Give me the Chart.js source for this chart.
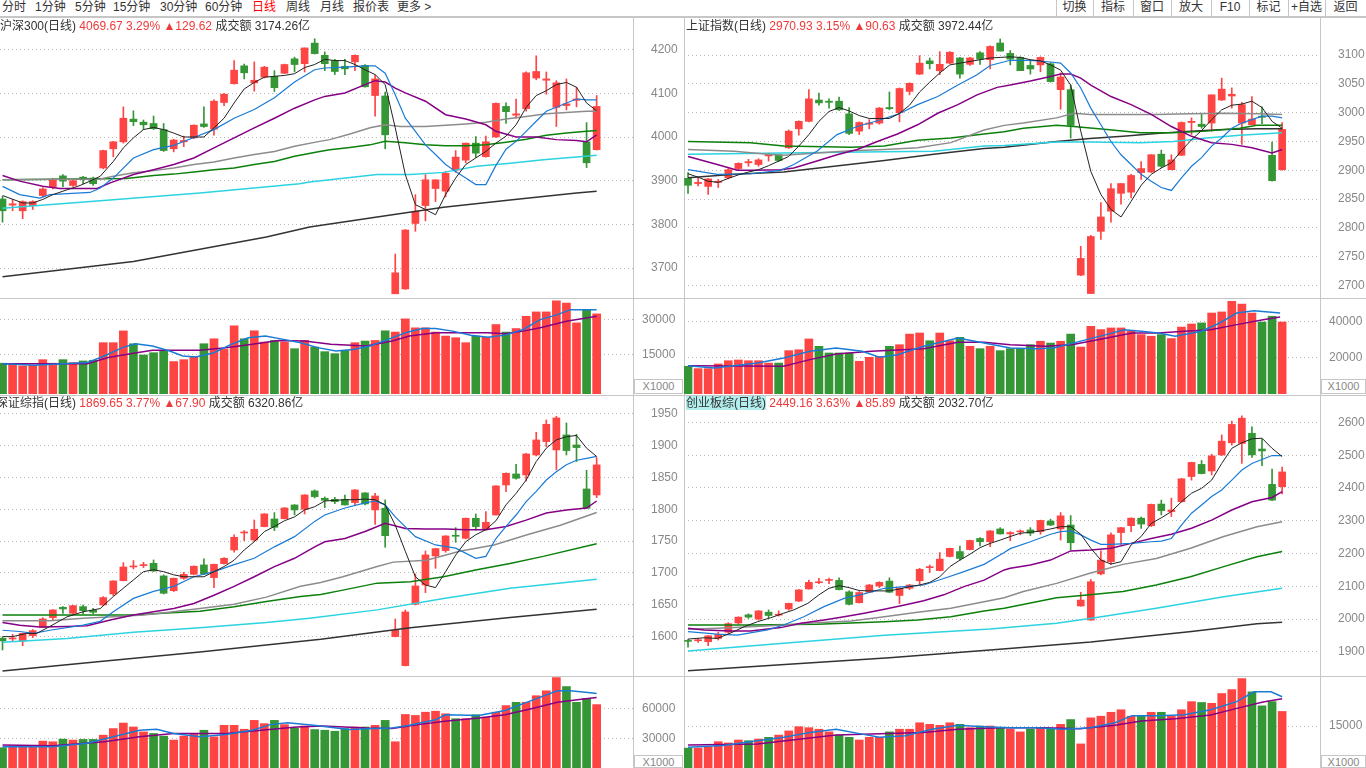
<!DOCTYPE html>
<html>
<head>
<meta charset="utf-8">
<script src="https://cdn.jsdelivr.net/npm/chart.js@4.4.1/dist/chart.umd.min.js"></script>
<style>
body{margin:0;width:1366px;height:768px;overflow:hidden;background:#fff;position:relative;
  font-family:"Liberation Sans","Noto Sans CJK SC",sans-serif;font-size:12px;color:#333}
canvas{position:absolute}
.ln{position:absolute;background:#c6c6c6}
.tb{position:absolute;top:0;line-height:15px;white-space:nowrap}
.btn{position:absolute;top:0;line-height:15px;text-align:center}
.title{position:absolute;line-height:15px;white-space:nowrap;z-index:5}
.rd{color:#ee3a3a}
.unit{position:absolute;border:1px solid #c6c6c6;color:#888;font-size:11px;line-height:12px;text-align:center;box-sizing:border-box;background:#fff}
</style>
</head>
<body>
<!-- toolbar -->
<div class="tb" style="left:2px">分时</div>
<div class="tb" style="left:35px">1分钟</div>
<div class="tb" style="left:75px">5分钟</div>
<div class="tb" style="left:113px">15分钟</div>
<div class="tb" style="left:160px">30分钟</div>
<div class="tb" style="left:205px">60分钟</div>
<div class="tb" style="left:252px;color:#f00">日线</div>
<div class="tb" style="left:286px">周线</div>
<div class="tb" style="left:320px">月线</div>
<div class="tb" style="left:353px">报价表</div>
<div class="tb" style="left:397px">更多 &gt;</div>
<div id="btns"></div>
<div class="ln" style="left:0;top:16px;width:1366px;height:2px"></div>

<!-- frame lines -->
<div class="ln" style="left:633px;top:18px;width:1px;height:750px"></div>
<div class="ln" style="left:684px;top:18px;width:1px;height:750px"></div>
<div class="ln" style="left:1320px;top:18px;width:1px;height:750px"></div>
<div class="ln" style="left:0;top:298px;width:1366px;height:1px"></div>
<div class="ln" style="left:0;top:395px;width:1366px;height:1px"></div>
<div class="ln" style="left:0;top:676px;width:1366px;height:1px"></div>

<canvas id="p1" width="684" height="280" style="left:0;top:18px"></canvas>
<canvas id="v1" width="684" height="96" style="left:0;top:299px"></canvas>
<canvas id="p2" width="682" height="280" style="left:684px;top:18px"></canvas>
<canvas id="v2" width="682" height="96" style="left:684px;top:299px"></canvas>
<canvas id="p3" width="684" height="280" style="left:0;top:396px"></canvas>
<canvas id="v3" width="684" height="91" style="left:0;top:677px"></canvas>
<canvas id="p4" width="682" height="280" style="left:684px;top:396px"></canvas>
<canvas id="v4" width="682" height="91" style="left:684px;top:677px"></canvas>

<div class="title" style="left:0;top:19px">沪深300(日线) <span class="rd">4069.67 3.29%</span> <span class="rd">▲129.62</span> 成交额 3174.26亿</div>
<div class="title" style="left:686px;top:19px">上证指数(日线) <span class="rd">2970.93 3.15%</span> <span class="rd">▲90.63</span> 成交额 3972.44亿</div>
<div class="title" style="left:-4px;top:396px">深证综指(日线) <span class="rd">1869.65 3.77%</span> <span class="rd">▲67.90</span> 成交额 6320.86亿</div>
<div class="title" style="left:686px;top:396px"><span style="background:#b2eeee">创业板综(日线)</span> <span class="rd">2449.16 3.63%</span> <span class="rd">▲85.89</span> 成交额 2032.70亿</div>

<div class="unit" style="left:634px;top:379px;width:49px;height:15px">X1000</div>
<div class="unit" style="left:1321px;top:379px;width:45px;height:15px">X1000</div>
<div class="unit" style="left:634px;top:755px;width:49px;height:13px">X1000</div>
<div class="unit" style="left:1321px;top:755px;width:45px;height:13px">X1000</div>

<script>
// ---------- 沪深300 ----------
const hs300Open  = [3858,3844,3831,3843,3866,3886,3911,3889,3908,3906,3929,3973,3989,4041,4034,4031,4017,3973,3989,3998,4030,4018,4079,4122,4163,4124,4137,4139,4146,4179,4168,4215,4187,4175,4162,4172,4164,4095,4094,3641,3652,3802,3843,3882,3876,3924,3947,3986,3955,4000,4070,4050,4065,4135,4130,4068,4072,4084,3989,3971];
const hs300Close = [3831,3847,3852,3852,3881,3902,3899,3900,3904,3893,3969,3989,4043,4035,4028,4019,3969,3993,3992,4027,4024,4082,4098,4153,4147,4130,4160,4113,4166,4166,4204,4191,4168,4150,4156,4187,4115,4133,4005,3689,3787,3830,3902,3902,3917,3954,3986,3963,3989,4077,4058,4053,4147,4150,4133,4124,4076,4087,3941,4070];
const hs300High  = [3864,3857,3854,3854,3884,3905,3914,3902,3910,3908,3970,3990,4069,4060,4039,4048,4031,3995,4002,4028,4069,4085,4100,4175,4167,4172,4162,4152,4167,4183,4204,4225,4195,4178,4178,4188,4166,4141,4103,3732,3788,3868,3914,3902,3921,3969,3986,4001,4002,4078,4078,4087,4149,4186,4149,4129,4133,4114,4033,4095];
const hs300Low   = [3805,3831,3813,3834,3863,3881,3886,3887,3893,3889,3927,3955,3986,4026,4017,4017,3967,3966,3978,3996,4022,4004,4072,4121,4133,4105,4135,4104,4145,4149,4149,4190,4152,4143,4143,4152,4114,4048,3973,3641,3651,3784,3808,3852,3863,3919,3941,3953,3954,3999,4031,4043,4059,4131,4098,4024,4062,4069,3930,3970];
const hs300Vol   = [11500,11050,10350,10650,13000,11500,13000,11750,12450,12750,20200,20200,25200,19750,15000,15950,16650,12200,13000,14400,19750,21850,17350,27350,21850,25250,20450,21150,20450,17650,21150,18350,16400,15550,16950,20200,20900,21150,25250,24700,30300,26500,26500,24700,23000,22300,20200,23000,22550,27900,24700,26200,31400,33250,33250,38000,37000,28600,34200,32400];
const hs300Ma5   = [[0,3866],[2,3849],[3,3849],[4,3857],[5,3868],[6.4,3879],[7.7,3889],[8.7,3899],[9.7,3910],[11,3944],[12,3975],[13,3998],[14,4017],[15,4022],[16,4017],[17,4009],[18,4000],[19,4000],[20,4000],[21,4021],[22,4043],[23,4078],[24,4110],[25,4125],[26,4137],[27,4139],[28,4141],[29,4145],[30,4159],[31,4166],[32,4178],[33,4175],[34,4175],[35,4166],[36,4154],[37,4143],[38,4120],[39,4021],[40,3914],[41,3845],[42,3834],[43,3822],[44,3868],[45,3906],[46,3937],[47,3952],[48,3967],[49,3986],[50,4002],[51,4028],[52,4068],[53,4095],[54,4106],[55,4120],[56,4125],[57,4114],[58,4078],[59,4060]];
const hs300Ma10  = [[0,3887],[1.7,3868],[3.7,3860],[4.7,3868],[8.7,3873],[9.7,3883],[11,3906],[13,3952],[15,3971],[17,3981],[19,3999],[21,4017],[23,4043],[25,4063],[27,4090],[29,4126],[31,4154],[32,4158],[34,4160],[36,4163],[37,4163],[38,4146],[39,4097],[40,4043],[41,4013],[42,3982],[43,3960],[44,3937],[45,3921],[46,3906],[47,3891],[48,3891],[49,3935],[50,3972],[51,3990],[52,4013],[53,4036],[54,4059],[55,4068],[56,4078],[57,4087],[58,4085],[59,4085]];
const hs300Ma20  = [[0,3912],[1.7,3899],[4,3887],[5.7,3882],[9.4,3882],[10.7,3895],[13,3914],[15,3925],[17,3937],[19,3952],[21,3975],[23,3998],[25,4021],[27,4043],[29,4066],[31,4085],[32,4093],[34,4101],[36,4120],[37,4129],[38,4126],[39,4112],[40,4101],[42,4082],[44,4051],[46,4041],[48,4028],[49,4013],[51,4000],[53,4000],[55,3994],[57,3992],[58,3989],[59,4005]];
const hs300Ma30  = [[0,3902],[9.7,3904],[11,3910],[13,3918],[15,3923],[17,3929],[19,3937],[21,3943],[23,3952],[25,3960],[27,3967],[29,3979],[31.5,3990],[32.5,3994],[34.5,4007],[36.5,4021],[38,4028],[39.5,4024],[42,4024],[44,4027],[46,4030],[48,4034],[50,4041],[52,4047],[54,4053],[56,4056],[58,4059],[59,4059]];
const hs300Ma60  = [[0,3902],[12.3,3905],[15,3912],[17,3915],[19,3920],[21,3925],[23,3929],[25,3937],[27,3944],[29,3956],[31.5,3967],[32.5,3971],[34.5,3976],[36.5,3982],[38,3990],[40,3987],[42,3982],[44,3980],[46,3980],[48,3982],[50,3988],[52,3995],[54,4004],[56,4009],[58,4013],[59,4015]];
const hs300Ma120 = [[0,3837],[9.7,3854],[19.6,3872],[29.5,3893],[30.5,3897],[37.2,3914],[40.5,3914],[43.8,3919],[47.1,3933],[50.4,3940],[53.7,3948],[57,3954],[59,3958]];
const hs300Ma250 = [[0,3680],[13,3715],[26.2,3771],[30.5,3794],[37.2,3817],[43.8,3839],[50.4,3856],[57,3872],[59,3876]];
const hs300VolMa5  = [[0,11300],[3.2,10600],[8.4,11750],[10.1,14550],[11.9,18100],[13.2,19750],[14.9,18800],[16.6,16650],[17.9,14550],[19.2,14150],[21,15950],[22.7,19500],[24.4,22300],[26.1,23000],[27.9,21600],[29.6,20200],[31.3,18100],[33.1,16650],[34.8,17350],[36.5,18800],[38.3,21600],[40,24400],[41.7,26200],[43,26200],[44.7,25100],[46.5,23400],[48.2,22550],[49.9,23400],[51.7,25800],[53.4,30000],[55.1,32100],[56.4,34200],[59,34200]];
const hs300VolMa10 = [[0,11300],[8.4,11300],[10.5,13900],[12.7,15500],[14.9,16950],[19.6,16950],[22.2,18100],[24.8,19500],[27.4,21150],[30,20900],[32.6,19500],[36.1,18800],[38.7,20900],[40.4,23000],[43,24400],[48.2,24400],[49.9,24000],[51.7,25100],[53.4,26500],[56,29300],[59,31400]];

// ---------- 上证指数 ----------
const shOpen  = [2886,2877,2872,2879,2887,2903,2913,2910,2925,2927,2939,2972,2985,3022,3020,3020,2998,2968,2980,2982,3009,3000,3037,3067,3090,3073,3086,3095,3084,3104,3092,3121,3103,3096,3082,3083,3085,3040,3040,2718,2686,2794,2829,2860,2862,2896,2897,2928,2901,2926,2983,2980,2982,3022,3029,2982,2979,2994,2926,2901];
const shClose = [2874,2879,2885,2881,2901,2912,2915,2918,2927,2917,2968,2985,3024,3017,3018,3005,2964,2983,2982,3008,3007,3042,3051,3086,3085,3084,3105,3067,3095,3093,3115,3107,3093,3073,3076,3096,3054,3062,2978,2747,2785,2819,2868,2877,2891,2903,2927,2907,2918,2983,2985,2976,3031,3041,3032,3014,2989,2992,2882,2971];
const shHigh  = [2896,2887,2886,2884,2903,2913,2919,2920,2930,2927,2970,2986,3040,3034,3024,3027,3009,2984,2988,3009,3036,3043,3052,3099,3095,3106,3106,3096,3096,3106,3116,3128,3108,3097,3090,3097,3087,3069,3048,2768,2787,2844,2877,2877,2893,2915,2927,2935,2927,2984,2991,2998,3031,3060,3043,3018,3028,3010,2949,2983];
const shLow   = [2860,2873,2858,2870,2885,2901,2907,2907,2916,2915,2938,2961,2984,3013,3008,3004,2962,2962,2972,2980,3005,2984,3031,3066,3076,3066,3085,3060,3082,3084,3076,3107,3083,3073,3067,3071,3053,3006,2956,2717,2686,2780,2810,2841,2852,2884,2896,2905,2901,2926,2962,2973,2968,3021,3008,2945,2979,2981,2881,2900];
const shVol   = [15000,13700,13700,16300,18100,18500,18100,18100,16800,16800,23700,24200,30200,26100,22400,22400,22400,17800,20000,20500,26100,27000,32900,33500,29200,33500,29200,31100,26100,24800,26100,23700,24800,24800,27000,28900,27900,28900,32900,25700,37200,35400,36300,36300,34800,32600,31700,32600,30400,36800,38500,39100,44600,45200,51100,49600,44600,39600,42800,39600];
const shMa5   = [[0,2894],[1,2888],[2,2881],[3,2879],[4,2886],[5,2892],[6,2897],[7,2901],[8,2908],[9,2916],[10,2924],[11,2942],[12,2962],[13,2985],[14,3002],[15,3009],[16,3003],[17,2995],[18,2990],[19,2990],[20,2990],[21,2999],[22,3013],[23,3036],[24,3053],[25,3069],[26,3083],[27,3086],[28,3089],[29,3092],[30,3095],[31,3096],[32,3097],[33,3096],[34,3092],[35,3090],[36,3083],[37,3074],[38,3048],[39,2968],[40,2898],[41,2858],[42,2832],[43,2819],[44,2846],[45,2874],[46,2893],[47,2904],[48,2913],[49,2934],[50,2953],[51,2969],[52,2988],[53,3005],[54,3013],[55,3015],[56,3020],[57,3009],[58,2985],[59,2973]];
const shMa10  = [[0,2901],[2.9,2893],[6.2,2894],[9.2,2900],[10.5,2910],[12.8,2933],[14.8,2962],[16.8,2976],[18.8,2986],[20.8,2997],[22.8,3014],[24.8,3028],[26.8,3048],[28.7,3066],[30,3082],[32,3091],[34,3091],[36,3088],[37,3086],[38,3069],[39,3043],[40,3008],[41,2979],[42,2950],[43,2927],[44,2910],[45,2893],[46,2881],[47,2870],[48,2865],[49,2887],[50,2907],[51,2922],[52,2942],[53,2956],[54,2973],[55,2982],[56,2988],[57,2994],[58,2994],[59,2991]];
const shMa20  = [[0,2924],[2.9,2910],[4.9,2900],[6.2,2900],[9.2,2901],[10.5,2904],[12.8,2916],[14.8,2927],[16.8,2936],[18.8,2950],[20.8,2963],[22.8,2979],[24.8,2999],[26.8,3014],[28.7,3031],[30.7,3044],[32,3048],[34,3055],[36,3063],[37,3067],[38,3067],[39,3060],[40,3048],[42,3028],[44,3014],[46,2997],[48,2976],[50,2959],[52,2948],[54,2945],[56,2939],[58,2930],[59,2936]];
const shMa30  = [[0,2936],[4.6,2933],[7.9,2928],[9.5,2926],[12.8,2930],[16.2,2934],[19.5,2936],[22.8,2939],[26.1,2948],[29.4,2970],[31.4,2978],[33.3,2982],[36.6,2991],[38.3,2999],[39.9,2997],[43.2,2997],[46.5,2997],[49.9,2998],[53.2,2999],[56.5,2998],[59,2997]];
const shMa60  = [[0,2950],[6.2,2948],[9.5,2942],[16.2,2940],[19.5,2942],[22.8,2952],[26.1,2956],[29.4,2963],[31.4,2967],[33.3,2973],[36.6,2978],[38.3,2976],[41.6,2971],[44.9,2965],[48.2,2965],[51.5,2968],[54.8,2973],[56.5,2978],[59,2978]];
const shMa120 = [[0,2928],[9.5,2930],[19.5,2932],[24.4,2933],[29.4,2942],[31.4,2943],[36.6,2949],[39.9,2949],[44.9,2948],[48.2,2950],[51.5,2956],[54.8,2961],[59,2965]];
const shMa250 = [[0,2887],[4.6,2893],[9.5,2897],[14.5,2907],[19.5,2917],[24.4,2928],[29.4,2938],[31.4,2940],[36.6,2950],[39.9,2955],[43.2,2959],[46.5,2964],[49.9,2968],[53.2,2971],[56.5,2972],[59,2972]];
const shVolMa5  = [[0,15350],[2.6,14050],[6.9,16850],[9.5,19600],[12.1,23300],[14.7,25150],[17.3,23300],[19,20000],[20.8,21450],[23.4,26100],[26.8,30700],[29.4,27950],[32,25150],[34.6,24800],[36.3,25150],[38.9,28850],[41.5,32600],[43.3,35350],[45,34450],[46.7,33500],[48.4,31650],[51,34450],[52.8,39050],[54.5,44600],[56.2,45900],[58.8,44600]];
const shVolMa10 = [[0,15350],[9.5,15000],[12.1,18700],[14.7,21850],[18.2,23300],[23.4,24800],[26.8,28300],[29.4,28300],[32,27000],[35.5,26100],[38.1,27000],[40.7,29800],[44.1,33500],[46.7,33500],[49.3,34450],[51.9,35350],[54.5,38150],[57.1,40900],[58.8,42400]];

// ---------- 深证综指 ----------
const szOpen  = [1597.4,1596.3,1593.2,1601.6,1614.6,1629.8,1646.1,1636.6,1647.1,1641.3,1649.7,1667,1687.9,1709.4,1711.5,1715.2,1695.3,1672.2,1691.6,1697.9,1712.6,1692.7,1714.7,1736.1,1762.8,1751.8,1772.8,1784.8,1785.3,1806.8,1800,1828.8,1817.3,1815.7,1815.7,1810.5,1825.7,1799,1801.6,1600,1554.4,1650.8,1681.1,1726.7,1735.1,1759.2,1754.4,1785.9,1769.1,1791.1,1838.2,1855.5,1853.9,1885.3,1906.3,1893.2,1916.8,1901,1831.9,1822.5];
const szClose = [1593.2,1597.9,1605.2,1609.4,1627.7,1641.9,1643.4,1648.7,1640.8,1638.2,1661.3,1687.4,1709.4,1711,1713.1,1703.1,1668.1,1691.6,1697.9,1710.5,1698.4,1713.6,1723,1756,1764.4,1768.6,1792.7,1771.7,1802.1,1799,1822.5,1819.9,1814.1,1812,1806.8,1830.4,1808.4,1820.9,1758.6,1609.9,1638.7,1679.6,1728.3,1738.2,1758.1,1757.6,1785.9,1772.8,1779.6,1836.7,1856.5,1848.7,1886.9,1908.9,1933.5,1943.5,1892.2,1896.9,1801.6,1869.7];
const szHigh  = [1599.5,1603.6,1605.7,1611,1629.8,1642.4,1647.1,1649.2,1649.7,1644.5,1662.8,1687.9,1716.2,1719.4,1716.7,1720.4,1696.9,1692.1,1701,1711,1722,1714.1,1724.1,1759.7,1766.5,1783.2,1793.2,1794.8,1802.6,1807.3,1823,1830.4,1819.4,1818.8,1822.5,1830.9,1826.2,1825.1,1814.7,1627.7,1641.9,1698.4,1734.5,1738.7,1758.6,1771.2,1786.4,1792.7,1796.3,1837.2,1857.1,1870.7,1888,1921,1940.3,1946.1,1935.6,1917.8,1861.3,1881.2];
const szLow   = [1579,1592.1,1585.8,1598.4,1614.1,1626.2,1636.6,1634,1636.1,1636.1,1648.7,1664.4,1687.4,1706.3,1708.4,1702.1,1667,1670.7,1690,1696.9,1697.9,1677,1713.6,1732.5,1750.8,1749.2,1772.3,1766.5,1784.8,1791.1,1792.7,1817.8,1802.6,1808.9,1806.3,1806.3,1806.8,1776.4,1740.3,1599.5,1553.9,1649.7,1669.1,1707.3,1732.5,1748.2,1753.4,1767.5,1767.5,1790.6,1827.8,1847.1,1844.5,1883.8,1898.4,1861.8,1885.3,1874.9,1801,1818.3];
const szVol   = [20600,21600,21600,21600,27300,26600,29300,28300,29000,29000,33300,40000,45600,41600,36600,35000,32300,28300,32300,35000,38300,31600,43300,43300,39300,48300,45000,48300,44000,40600,42600,39000,38300,37300,40000,41600,41600,43300,48300,26600,54300,53300,56600,57600,55000,50000,50000,54000,51600,56600,63300,66600,66600,73300,78300,91600,82600,66600,70600,64300];
const szMa5   = [[0,1600],[1,1600],[2.4,1605],[3.4,1605],[4.7,1616],[6.4,1631],[8,1639],[9.7,1644],[11,1663],[12,1676],[13,1689],[14,1702],[15,1705],[16,1702],[17,1697],[18,1694],[19,1694],[20,1694],[21,1702],[22,1710],[23,1720],[24,1736],[25,1749],[26,1765],[27,1773],[28,1782],[29,1788],[30,1799],[31,1804],[32,1813],[33,1814],[34,1815],[35,1815],[36,1816],[37,1815],[38,1807],[39,1775],[40,1734],[41,1694],[42,1681],[43,1677],[44,1702],[45,1728],[46,1749],[47,1760],[48,1768],[49,1782],[50,1807],[51,1825],[52,1846],[53,1875],[54,1896],[55,1909],[56,1914],[57,1916],[58,1896],[59,1883]];
const szMa10  = [[0,1610],[1.7,1608],[3.1,1605],[4.7,1610],[8,1618],[9.7,1624],[11,1639],[13,1660],[15,1671],[17,1679],[19,1694],[21,1702],[23,1713],[25,1723],[27,1741],[29,1757],[31,1781],[32,1791],[34,1802],[36,1810],[37,1813],[38,1807],[39,1788],[41,1757],[43,1744],[45,1739],[47,1723],[48,1726],[49,1754],[50,1773],[51,1791],[52,1812],[53,1828],[54,1846],[55,1859],[56,1870],[57,1877],[58,1880],[59,1883]];
const szMa20  = [[0,1622],[1.7,1618],[3.7,1615],[6.4,1616],[8.4,1617],[10.7,1626],[13,1634],[15,1639],[17,1644],[19,1652],[21,1665],[23,1679],[25,1694],[27,1710],[29,1723],[31,1741],[32,1749],[34,1754],[36,1765],[38,1778],[40,1770],[42,1769],[44,1769],[46,1768],[48,1768],[50,1773],[52,1783],[54,1794],[56,1799],[58,1802],[59,1813]];
const szMa30  = [[0,1625],[4.7,1625],[8,1629],[11,1631],[14,1634],[16.3,1638],[19.6,1644],[23,1651],[26.2,1662],[29.6,1679],[31.6,1685],[33.8,1694],[37.2,1710],[38.8,1717],[42.1,1720],[45.4,1734],[48.8,1744],[52.1,1760],[55.4,1775],[59,1795]];
const szMa60  = [[0,1634],[13,1634],[16.3,1637],[19.6,1640],[23,1647],[26.2,1655],[29.6,1663],[31.6,1666],[33.8,1673],[37.2,1684],[40.5,1686],[43.8,1694],[47.1,1705],[50.4,1715],[53.7,1726],[59,1746]];
const szMa120 = [[0,1591],[6.4,1597],[13,1607],[19.6,1614],[26.2,1622],[30.5,1629],[37.2,1642],[43.8,1660],[50.4,1676],[59,1690]];
const szMa250 = [[0,1546],[9.7,1561],[19.6,1576],[31.6,1596],[40.5,1614],[50.4,1630],[59,1643]];
const szVolMa5  = [[0,21600],[5,21600],[8.4,25000],[11,31600],[13.6,38300],[15.3,39300],[17,35000],[19.6,31600],[22.2,34000],[24.8,38300],[26.6,44000],[28.3,46000],[30.9,43300],[34.4,39000],[37,40000],[38.7,40600],[40.4,43300],[43,49000],[44,54000],[47.3,53300],[49.9,58300],[52.5,68300],[55.1,78300],[56.4,78300],[58.6,76000],[59,75500]];
const szVolMa10 = [[0,23300],[5,22600],[10.1,26600],[13.6,31600],[17,35000],[22.2,35000],[25.7,38300],[29.2,41600],[31.8,42600],[36.1,40600],[38.7,40000],[41.3,44000],[43.9,47300],[47.3,50600],[49.9,54000],[52.5,60000],[55.1,66600],[57.7,70000],[59,71600]];

// ---------- 创业板综 ----------
const cyOpen  = [1935,1934,1931,1941,1960,1988,2013,2000,2021,2012,2031,2055,2092,2111,2118,2118,2083,2050,2082,2101,2116,2072,2094,2117,2157,2148,2191,2206,2212,2246,2236,2275,2260,2266,2272,2267,2299,2275,2287,2040,1997,2138,2175,2264,2285,2308,2285,2351,2328,2358,2435,2472,2452,2501,2538,2536,2567,2519,2411,2404];
const cyClose = [1932,1937,1949,1953,1986,2006,2006,2025,2011,2015,2048,2089,2112,2114,2121,2090,2045,2081,2104,2112,2082,2094,2104,2152,2160,2183,2216,2185,2240,2236,2269,2260,2264,2269,2262,2301,2287,2315,2233,2058,2114,2180,2257,2279,2308,2290,2350,2331,2333,2428,2478,2444,2498,2543,2594,2613,2501,2513,2363,2449];
const cyHigh  = [1938,1941,1950,1960,1989,2007,2016,2026,2028,2025,2049,2090,2119,2124,2125,2126,2086,2084,2106,2114,2126,2095,2106,2155,2165,2203,2217,2223,2241,2249,2270,2279,2267,2272,2279,2302,2305,2325,2316,2082,2121,2208,2263,2280,2309,2311,2351,2363,2369,2429,2479,2484,2503,2562,2604,2620,2587,2549,2458,2464];
const cyLow   = [1914,1929,1919,1936,1957,1984,2002,1997,2004,2009,2027,2053,2091,2108,2108,2089,2043,2049,2081,2096,2081,2047,2090,2106,2142,2147,2190,2180,2211,2223,2221,2259,2239,2257,2255,2259,2285,2241,2211,2039,1996,2135,2167,2228,2267,2277,2282,2318,2313,2357,2424,2443,2440,2499,2531,2475,2493,2468,2361,2382];
const cyVol   = [7100,7100,7450,9400,8950,10000,9750,10350,10950,11750,13250,14750,14400,13850,12900,11750,10950,10000,10950,10950,12900,13850,13850,16150,15600,15250,16150,15600,14400,15000,15000,14400,13850,12900,13850,14400,13850,15600,17300,8600,17900,18500,19900,20800,18500,18500,19900,19900,18500,20800,23700,23400,23100,26600,28000,31900,27200,22200,23700,20200];
const cyMa5   = [[0,1939],[1.6,1943],[2.9,1941],[4.2,1957],[5.6,1977],[6.9,1992],[8.2,2004],[9.5,2018],[10.5,2028],[11.9,2048],[13,2074],[14,2094],[15,2102],[16,2096],[17,2087],[18,2086],[19,2086],[20,2086],[21,2092],[22,2099],[23,2104],[24,2112],[25,2129],[26,2160],[27,2180],[28,2198],[29,2218],[30,2231],[31,2241],[32,2252],[33,2262],[34,2265],[35,2269],[36,2275],[37,2282],[38,2282],[39,2259],[40,2216],[41,2180],[42,2168],[43,2175],[44,2226],[45,2252],[46,2292],[47,2309],[48,2328],[49,2358],[50,2384],[51,2399],[52,2424],[53,2475],[54,2521],[55,2538],[56,2550],[57,2552],[58,2521],[59,2496]];
const cyMa10  = [[0,1962],[2.9,1954],[4.9,1951],[7.9,1967],[9.5,1982],[11.5,2007],[13.5,2038],[15.5,2063],[17.5,2077],[19.5,2094],[21.5,2099],[23.4,2104],[25.4,2124],[27.4,2145],[29.4,2167],[31.4,2203],[32,2215],[34,2236],[36,2259],[37,2267],[38,2269],[39,2257],[40,2241],[41,2228],[42,2228],[44,2231],[46,2236],[47,2238],[48,2246],[49,2287],[50,2323],[51,2348],[52,2374],[53,2394],[54,2424],[55,2455],[56,2475],[57,2487],[58,2499],[59,2499]];
const cyMa20  = [[0,1972],[1.6,1967],[4.2,1964],[6.2,1964],[9.2,1974],[11.2,1987],[13.5,1997],[15.5,2007],[17.5,2018],[19.5,2030],[21.5,2043],[23.4,2056],[25.4,2074],[27.4,2099],[29.4,2119],[31.4,2150],[32,2155],[34,2165],[36,2180],[38,2208],[40,2211],[42,2216],[44,2231],[46,2246],[48,2259],[50,2277],[52,2302],[54,2333],[56,2358],[58,2371],[59,2389]];
const cyMa30  = [[0,1969],[2.9,1972],[6.2,1977],[9.5,1982],[12.8,1989],[16.2,1994],[19.5,2007],[22.8,2021],[26.1,2033],[29.4,2053],[31.4,2065],[33.3,2084],[36.6,2109],[39.9,2140],[43.2,2167],[46.5,2185],[49.9,2216],[53.2,2252],[56.5,2282],[59,2297]];
const cyMa60  = [[0,1982],[6.2,1982],[12.8,1984],[19.5,1992],[22.8,1997],[26.1,2007],[29.4,2025],[31.4,2033],[36.6,2065],[39.9,2074],[43.2,2084],[46.5,2104],[49.9,2129],[53.2,2160],[56.5,2190],[59,2206]];
const cyMa120 = [[0,1903],[9.5,1926],[19.5,1951],[30,1970],[36.6,1987],[39.9,2002],[46.5,2033],[53.2,2068],[59,2094]];
const cyMa250 = [[0,1842],[10,1862],[20,1882],[30,1906],[40,1930],[50,1962],[56.5,1986],[59,1990]];
const cyVolMa5  = [[0,7450],[3.5,8000],[6.9,9750],[9.5,10950],[12.1,12650],[14.7,13850],[17.3,12100],[19,10950],[21.6,11500],[24.2,13850],[26.8,15250],[29.4,14750],[32,14400],[34.6,14400],[37.2,13850],[39.8,14300],[42.4,16150],[44.1,18700],[46.7,18700],[49.3,19050],[51.9,20800],[54.5,23700],[56.2,27200],[57.9,27200],[59,25450]];
const cyVolMa10 = [[0,8250],[6.9,8600],[11.2,10350],[14.7,11750],[18.2,12100],[23.4,12650],[26.8,13850],[31.1,14400],[35.5,14400],[38.9,14050],[42.4,15250],[45,16750],[48.4,17550],[51.9,18950],[54.5,21300],[57.1,23600],[59,24750]];

const RED = '#ff4444', GREEN = '#359635';
const C5 = '#222222', C10 = '#1a7bd6', C20 = '#860086', C30 = '#8c8c8c', C60 = '#0b800b', C120 = '#2cd3e0', C250 = '#333333';

function pts(a) { return a.map(p => ({x: p[0], y: p[1]})); }

function lineDs(a, color, w, order) {
  return {type: 'line', data: pts(a), borderColor: color, borderWidth: w, pointRadius: 0, tension: 0, order: order};
}

function yAxis(min, max, ticks, axisW, pad) {
  return {
    position: 'right', min: min, max: max,
    afterBuildTicks: s => { s.ticks = ticks.map(v => ({value: v})); },
    // fixed axis column, and no extra room reserved for the labels
    afterFit: s => { s.width = axisW; s.paddingTop = 0; s.paddingBottom = 0; },
    grid: {color: '#b9b9b9', drawTicks: false},
    border: {display: false, dash: [1, 3]},
    ticks: {padding: pad, color: '#888', font: {family: 'Liberation Sans', size: 12}, callback: v => String(v)}
  };
}

function baseOpts(xMin, xMax, y, padTop, padBottom) {
  return {
    animation: false, responsive: false, devicePixelRatio: 1, events: [],
    layout: {padding: {top: padTop, bottom: padBottom, left: 0, right: 0}},
    plugins: {legend: {display: false}, tooltip: {enabled: false}},
    scales: {x: {type: 'linear', display: false, offset: false, min: xMin, max: xMax}, y: y}
  };
}

function drawPanel(p) {
  const cols = p.open.map((o, i) => p.close[i] >= o ? RED : GREEN);
  const price = [
    {type: 'bar', data: p.open.map((o, i) => ({x: i, y: [p.low[i], p.high[i]]})), backgroundColor: cols, barThickness: 1, grouped: false, order: 20},
    {type: 'bar', data: p.open.map((o, i) => ({x: i, y: [Math.min(o, p.close[i]), Math.max(o, p.close[i])]})), backgroundColor: cols, barThickness: 7, grouped: false, order: 19}
  ];
  p.mas.forEach((m, k) => price.push(lineDs(m[0], m[1], m[2], 10 - k)));
  new Chart(document.getElementById(p.priceId), {
    type: 'bar', data: {datasets: price},
    options: baseOpts(p.xMin, p.xMax, yAxis(p.yMin, p.yMax, p.yTicks, p.axisW, 18), p.padTop, 1)
  });
  const vol = [
    {type: 'bar', data: p.vol.map((v, i) => ({x: i, y: v})), backgroundColor: cols, barThickness: 8, base: p.vMin, grouped: false, order: 20},
    lineDs(p.volMa10, C20, 1.5, 2),
    lineDs(p.volMa5, C10, 1.5, 1)
  ];
  new Chart(document.getElementById(p.volId), {
    type: 'bar', data: {datasets: vol},
    options: baseOpts(p.xMin, p.xMax, yAxis(p.vMin, p.vMax, p.vTicks, p.axisW, 9), p.vPad, p.vPad)
  });
}

drawPanel({priceId: 'p1', volId: 'v1', open: hs300Open, high: hs300High, low: hs300Low, close: hs300Close, vol: hs300Vol,
  mas: [[hs300Ma250, C250, 1.5], [hs300Ma120, C120, 1.5], [hs300Ma60, C60, 1.5], [hs300Ma30, C30, 1.5], [hs300Ma20, C20, 1.5], [hs300Ma10, C10, 1.2], [hs300Ma5, C5, 1]],
  volMa5: hs300VolMa5, volMa10: hs300VolMa10,
  xMin: -0.25, xMax: 62.61, axisW: 51, padTop: 17,
  yMin: 3633.6, yMax: 4233.6, yTicks: [3700, 3800, 3900, 4000, 4100, 4200],
  vMin: -1560, vMax: 38300, vTicks: [15000, 30000], vPad: 1});

drawPanel({priceId: 'p2', volId: 'v2', open: shOpen, high: shHigh, low: shLow, close: shClose, vol: shVol,
  mas: [[shMa250, C250, 1.5], [shMa120, C120, 1.5], [shMa60, C60, 1.5], [shMa30, C30, 1.5], [shMa20, C20, 1.5], [shMa10, C10, 1.2], [shMa5, C5, 1]],
  volMa5: shVolMa5, volMa10: shVolMa10,
  xMin: -0.4, xMax: 62.76, axisW: 46, padTop: 17,
  yMin: 2680, yMax: 3134.9, yTicks: [2700, 2750, 2800, 2850, 2900, 2950, 3000, 3050, 3100],
  vMin: -390, vMax: 51830, vTicks: [20000, 40000], vPad: 1});

drawPanel({priceId: 'p3', volId: 'v3', open: szOpen, high: szHigh, low: szLow, close: szClose, vol: szVol,
  mas: [[szMa250, C250, 1.5], [szMa120, C120, 1.5], [szMa60, C60, 1.5], [szMa30, C30, 1.5], [szMa20, C20, 1.5], [szMa10, C10, 1.2], [szMa5, C5, 1]],
  volMa5: szVolMa5, volMa10: szVolMa10,
  xMin: -0.25, xMax: 62.61, axisW: 51, padTop: 16,
  yMin: 1539.7, yMax: 1952.8, yTicks: [1600, 1650, 1700, 1750, 1800, 1850, 1900, 1950],
  vMin: 0, vMax: 92300, vTicks: [30000, 60000], vPad: 0});

drawPanel({priceId: 'p4', volId: 'v4', open: cyOpen, high: cyHigh, low: cyLow, close: cyClose, vol: cyVol,
  mas: [[cyMa250, C250, 1.5], [cyMa120, C120, 1.5], [cyMa60, C60, 1.5], [cyMa30, C30, 1.5], [cyMa20, C20, 1.5], [cyMa10, C10, 1.2], [cyMa5, C5, 1]],
  volMa5: cyVolMa5, volMa10: cyVolMa10,
  xMin: -0.4, xMax: 62.76, axisW: 46, padTop: 16,
  yMin: 1829.4, yMax: 2631.9, yTicks: [1900, 2000, 2100, 2200, 2300, 2400, 2500, 2600],
  vMin: 0, vMax: 32500, vTicks: [15000], vPad: 0});

// toolbar buttons on the right
const btnLabels = ['切换', '指标', '窗口', '放大', 'F10', '标记', '+自选', '返回'];
const btnEdges = [1056, 1093, 1133, 1171, 1211, 1249, 1288, 1325, 1366];
const btnBox = document.getElementById('btns');
btnLabels.forEach((t, i) => {
  const b = document.createElement('div');
  b.className = 'btn';
  b.style.left = btnEdges[i] + 'px';
  b.style.width = (btnEdges[i + 1] - btnEdges[i]) + 'px';
  b.textContent = t;
  btnBox.appendChild(b);
  const s = document.createElement('div');
  s.className = 'ln';
  s.style.cssText = 'left:' + btnEdges[i] + 'px;top:0;width:1px;height:16px';
  btnBox.appendChild(s);
});
</script>
</body>
</html>
